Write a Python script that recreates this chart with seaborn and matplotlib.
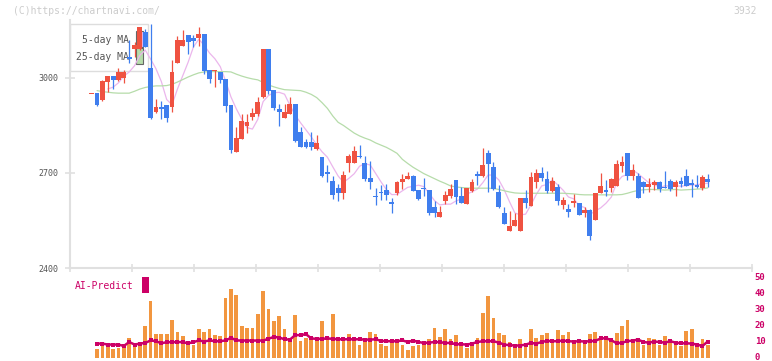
import numpy as np
import pandas as pd
import matplotlib
matplotlib.use('Agg')
import matplotlib.pyplot as plt
import matplotlib.transforms as mtransforms
from matplotlib.patches import Rectangle
import seaborn as sns

#==================================== DATA ====================================
# daily candles (yen), oldest first
opens = [2949, 2952, 2931, 2988, 3006, 2994, 2999, 3065, 3091, 3092, 3144, 3031, 2891, 2907, 2915, 2907,
         3048, 3101, 3136, 3125, 3125, 3139, 3025, 3021, 3020, 2997, 2915, 2767, 2808, 2848, 2876, 2886,
         2939, 3092, 2962, 2901, 2874, 2886, 2918, 2828, 2799, 2798, 2776, 2750, 2703, 2675, 2652, 2638,
         2731, 2733, 2754, 2731, 2683, 2627, 2639, 2646, 2609, 2636, 2673, 2680, 2691, 2646, 2654, 2646,
         2592, 2562, 2613, 2628, 2678, 2627, 2601, 2643, 2697, 2691, 2762, 2719, 2639, 2573, 2518, 2534,
         2518, 2620, 2597, 2670, 2699, 2681, 2644, 2657, 2599, 2586, 2606, 2606, 2575, 2583, 2552, 2638,
         2646, 2654, 2660, 2723, 2763, 2692, 2689, 2670, 2657, 2663, 2672, 2657, 2675, 2657, 2675, 2691,
         2668, 2662, 2652, 2681]
closes = [2949, 2915, 2991, 3006, 2994, 3018, 3018, 3059, 3104, 3160, 3099, 2875, 2907, 2903, 2875, 3018,
          3120, 3120, 3115, 3118, 3139, 3023, 2998, 3025, 2994, 2912, 2771, 2810, 2864, 2860, 2888, 2923,
          3092, 2960, 2904, 2894, 2894, 2918, 2802, 2783, 2783, 2783, 2794, 2692, 2697, 2632, 2638, 2694,
          2754, 2770, 2750, 2681, 2670, 2623, 2636, 2629, 2601, 2672, 2681, 2691, 2644, 2619, 2650, 2575,
          2575, 2577, 2631, 2650, 2625, 2606, 2652, 2671, 2692, 2725, 2728, 2651, 2594, 2539, 2533, 2552,
          2620, 2606, 2686, 2699, 2685, 2643, 2675, 2610, 2615, 2578, 2613, 2567, 2583, 2502, 2637, 2659,
          2641, 2681, 2728, 2736, 2692, 2710, 2622, 2657, 2665, 2672, 2651, 2653, 2651, 2671, 2665, 2660,
          2661, 2657, 2687, 2672]
highs = [2949, 2954, 2994, 3006, 3006, 3031, 3025, 3120, 3112, 3162, 3154, 3171, 2933, 2927, 2915, 3057,
         3131, 3152, 3136, 3136, 3162, 3139, 3025, 3025, 3020, 2997, 2915, 2846, 2885, 2885, 2904, 2939,
         3092, 3092, 2962, 2918, 2918, 2939, 2918, 2846, 2806, 2828, 2820, 2750, 2725, 2691, 2665, 2707,
         2760, 2785, 2789, 2754, 2738, 2652, 2662, 2665, 2620, 2675, 2697, 2702, 2694, 2646, 2683, 2646,
         2612, 2596, 2643, 2665, 2678, 2657, 2652, 2681, 2707, 2780, 2773, 2735, 2662, 2593, 2580, 2575,
         2620, 2646, 2704, 2713, 2719, 2706, 2686, 2665, 2625, 2602, 2634, 2606, 2592, 2586, 2637, 2699,
         2678, 2684, 2741, 2754, 2763, 2728, 2699, 2676, 2683, 2678, 2676, 2706, 2681, 2678, 2688, 2713,
         2681, 2694, 2694, 2697]
lows = [2949, 2910, 2927, 2957, 2965, 2989, 2983, 3048, 3065, 3088, 3097, 2871, 2888, 2870, 2862, 2891,
        3046, 3101, 3075, 3099, 3101, 3013, 2985, 2971, 2983, 2894, 2764, 2767, 2808, 2825, 2867, 2880,
        2936, 2950, 2899, 2848, 2874, 2886, 2799, 2783, 2778, 2771, 2773, 2688, 2673, 2619, 2613, 2619,
        2704, 2733, 2746, 2676, 2649, 2599, 2615, 2615, 2575, 2631, 2650, 2680, 2644, 2615, 2628, 2568,
        2562, 2562, 2601, 2620, 2601, 2606, 2601, 2641, 2662, 2686, 2641, 2646, 2591, 2539, 2518, 2534,
        2518, 2591, 2597, 2654, 2676, 2636, 2641, 2599, 2586, 2562, 2592, 2567, 2562, 2489, 2552, 2638,
        2628, 2641, 2660, 2704, 2678, 2678, 2622, 2636, 2641, 2646, 2641, 2653, 2644, 2628, 2657, 2660,
        2625, 2652, 2646, 2655]

# 25-day moving average as drawn (it uses days before the window)
ma25 = [np.nan, 2960, 2957, 2955, 2953, 2952, 2952, 2952, 2958, 2965, 2970, 2973, 2975, 2975, 2976, 2980,
        2987, 2995, 3003, 3010, 3016, 3019, 3020, 3020, 3020, 3020, 3019, 3012, 3006, 3001, 2997, 2994,
        2986, 2978, 2972, 2967, 2963, 2962, 2961, 2960, 2955, 2948, 2938, 2922, 2904, 2880, 2860, 2850,
        2838, 2826, 2817, 2810, 2804, 2795, 2788, 2781, 2772, 2762, 2743, 2730, 2718, 2708, 2698, 2690,
        2682, 2674, 2667, 2659, 2656, 2654, 2653, 2652, 2652, 2652, 2652, 2651, 2648, 2644, 2640, 2637,
        2636, 2636, 2636, 2636, 2636, 2636, 2636, 2636, 2636, 2635, 2634, 2632, 2631, 2631, 2631, 2631,
        2631, 2631, 2631, 2632, 2636, 2641, 2645, 2647, 2648, 2648, 2647, 2646, 2647, 2648, 2646, 2647,
        2648, 2649, 2650, 2653]

# volume panel (right scale 0-50) and the AI-Predict line
volume = [0, 5.5, 9, 9, 5.5, 6, 7.5, 12.4, 9, 9, 20, 35.6, 15, 15, 15, 23.7,
          16.4, 13.6, 10.5, 8, 18, 16.4, 18, 14.3, 13.6, 37.5, 43, 39.6, 20, 18.7, 18.7, 27.5,
          42, 30.6, 23, 26.2, 18, 10.5, 26.8, 10.5, 12.8, 12.8, 11.7, 23, 11, 27.5, 13.2, 13.2,
          15, 13.2, 8, 11, 16.4, 15, 8.6, 7.5, 9.4, 9.4, 8, 4.8, 7.3, 8, 9, 11.7,
          18.7, 13, 18, 11.7, 14.3, 7.5, 6, 9.9, 12.4, 28, 38.8, 25, 15.5, 14.3, 9.9, 8.6,
          11.7, 8, 18, 12.4, 14.3, 15.5, 11, 17.4, 14.3, 16, 8.6, 11.7, 9, 15, 16, 12.4,
          12.4, 9.9, 15.5, 20, 23.7, 9.9, 9.9, 8, 12.4, 11.7, 8, 13.6, 9.9, 10.5, 7.3, 16.8,
          18, 7.3, 11.7, 8]
ai_predict = [np.nan, 9, 9, 8.4, 8.4, 8.4, 7.5, 10, 8.4, 9, 9.4, 11, 10.5, 9.2, 9.9, 9.9,
              10, 9.9, 9.2, 9.9, 11, 10.3, 11, 10.5, 10.5, 11, 12.6, 11, 10.9, 10.9, 10.9, 10.9,
              10.9, 12, 13.2, 12.8, 11.7, 11.5, 14.3, 14.3, 14.9, 12.2, 12, 12, 12.2, 12, 11.7, 11.7,
              11.7, 11.7, 11.7, 11.5, 11.5, 11.7, 10.7, 10.5, 10.5, 10.5, 11, 10, 10.9, 10, 9.4, 9.6,
              10, 9.9, 9.4, 9.4, 8.6, 8.6, 8.4, 9, 10, 10.5, 10.5, 10.5, 9.6, 8.4, 8, 7.8,
              7.8, 8.4, 9.4, 9, 10, 10.7, 10.5, 10.5, 10.9, 10.5, 10.3, 10.5, 10.3, 10.5, 10.7, 12.2,
              12.4, 11.1, 9.2, 9.6, 10.5, 10.9, 11.5, 10, 9.6, 10.3, 10, 9.6, 10.5, 9.6, 9.2, 9.2,
              9, 8.4, 7.5, 10.3]

# date labels, one every ten sessions starting at the 16th candle
date_labels = ['8/18', '9/1', '9/16', '10/1', '10/16', '10/30', '11/14', '12/1', '12/15', '12/29', '1/16']
first_label_idx = 15

#=================================== STYLE ====================================
RED = '#ef5241'
BLUE = '#3f7eee'
PINK = '#ebb6ec'
GREEN = '#b6dcaa'
ORANGE = '#f2963f'
CRIMSON = '#cc0066'
AXIS_GRAY = '#e0e0e0'
TEXT_GRAY = '#555555'

W, H = 772, 361  # figure size in pixels


def fx(x):
    # pixel x -> figure fraction
    return x / W


def fy(y):
    # pixel y (from top) -> figure fraction
    return 1 - y / H


sns.set_theme(style='white')
plt.rcParams['font.family'] = ['DejaVu Sans Mono', 'DejaVu Sans']

df = pd.DataFrame({'open': opens, 'high': highs, 'low': lows, 'close': closes,
                   'ma25': ma25, 'volume': volume, 'ai': ai_predict})
df['idx'] = np.arange(len(df))
df['ma5'] = df['close'].rolling(5, min_periods=4).mean()

fig = plt.figure(figsize=(W / 100, H / 100), dpi=100)
ax = fig.add_axes([fx(70), fy(268), (752 - 70) / W, (268 - 20) / H])
axv = fig.add_axes([fx(70), fy(358), (752 - 70) / W, (358 - 278) / H])
xlim = (-4.05, 123.26)

#================================ PRICE PANEL =================================
up = df['close'] >= df['open']
colors = np.where(up, RED, BLUE)
ax.vlines(df['idx'], df['low'], df['high'], colors=colors, linewidth=0.9, zorder=3)
body_lo = df[['open', 'close']].min(axis=1)
body_h = (df['close'] - df['open']).abs().clip(lower=3)
ax.bar(df['idx'], body_h, bottom=body_lo, width=0.9, color=colors, linewidth=0, zorder=4)

sns.lineplot(data=df, x='idx', y='ma5', ax=ax, color=PINK, linewidth=0.9, zorder=2)
sns.lineplot(data=df, x='idx', y='ma25', ax=ax, color=GREEN, linewidth=0.9, zorder=2)

ax.set_xlim(*xlim)
ax.set_ylim(2400, 3183)
ax.set_xlabel('')
ax.set_ylabel('')
for side in ['top', 'right']:
    ax.spines[side].set_visible(False)
for side in ['left', 'bottom']:
    ax.spines[side].set_color(AXIS_GRAY)
    ax.spines[side].set_linewidth(1.5)

ax.set_yticks([2400, 2700, 3000])
ax.set_yticklabels(['2400', '2700', '3000'])
ax.tick_params(axis='y', direction='inout', length=6.5, width=1.2, color=AXIS_GRAY,
               labelsize=6, labelcolor=TEXT_GRAY, pad=5, left=True)

label_pos = np.arange(len(date_labels)) * 10 + first_label_idx
ax.set_xticks(label_pos)
ax.set_xticklabels(date_labels)
ax.set_xticks(np.linspace(xlim[0], xlim[1], 12), minor=True)
ax.tick_params(axis='x', which='major', length=0, labelsize=6, labelcolor=TEXT_GRAY, pad=8.5)
ax.tick_params(axis='x', which='minor', direction='inout', length=5.5, width=1.2,
               color=AXIS_GRAY, bottom=True)

# legend box, kept behind the candles like the original
ax.add_patch(Rectangle((fx(70), fy(71)), (148 - 70) / W, (71 - 24) / H, transform=fig.transFigure,
                       facecolor='white', edgecolor='#dddddd', linewidth=1, zorder=1, clip_on=False))
ax.text(fx(129), fy(40), '5-day MA', transform=fig.transFigure, ha='right', va='center',
        fontsize=7, color=TEXT_GRAY, zorder=1)
ax.text(fx(129), fy(57), '25-day MA', transform=fig.transFigure, ha='right', va='center',
        fontsize=7, color=TEXT_GRAY, zorder=1)
ax.add_patch(Rectangle((fx(136), fy(46.5)), 7 / W, 15 / H, transform=fig.transFigure,
                       facecolor=PINK, edgecolor='#666666', linewidth=0.8, zorder=1, clip_on=False))
ax.add_patch(Rectangle((fx(136), fy(63.5)), 7 / W, 15 / H, transform=fig.transFigure,
                       facecolor=GREEN, edgecolor='#666666', linewidth=0.8, zorder=1, clip_on=False))

#=============================== VOLUME PANEL =================================
sns.barplot(data=df, x='idx', y='volume', ax=axv, native_scale=True, color=ORANGE,
            saturation=1, width=0.7, linewidth=0, zorder=2)
sns.lineplot(data=df, x='idx', y='ai', ax=axv, color=CRIMSON, linewidth=1.8,
             marker='s', markersize=2.2, markeredgewidth=0, zorder=3)
axv.set_xlim(*xlim)
axv.set_ylim(0, 50)
axv.set_xlabel('')
axv.set_ylabel('')
axv.set_xticks([])
for side in axv.spines:
    axv.spines[side].set_visible(False)
axv.yaxis.tick_right()
axv.set_yticks([0, 10, 20, 30, 40, 50])
axv.tick_params(axis='y', length=0, labelsize=6.5, labelcolor=CRIMSON, pad=2)
# nudge the right-hand labels up a little so the "0" stays inside the picture
nudge = mtransforms.ScaledTranslation(0, 2 / 100, fig.dpi_scale_trans)
for lab in axv.get_yticklabels():
    lab.set_fontweight('bold')
    lab.set_transform(lab.get_transform() + nudge)

fig.text(fx(75), fy(286), 'AI-Predict', color=CRIMSON, fontsize=7, va='center', ha='left')
fig.add_artist(Rectangle((fx(142.3), fy(292.7)), 6.4 / W, 15.4 / H, transform=fig.transFigure,
                         facecolor=CRIMSON, edgecolor='none'))

#================================= CAPTIONS ===================================
fig.text(fx(13), fy(11), '(C)https://chartnavi.com/', color='#cccccc', fontsize=7,
         va='center', ha='left')
fig.text(fx(757), fy(11), '3932', color='#cccccc', fontsize=7, va='center', ha='right')

fig.savefig('out.png', dpi=100, facecolor='white')
